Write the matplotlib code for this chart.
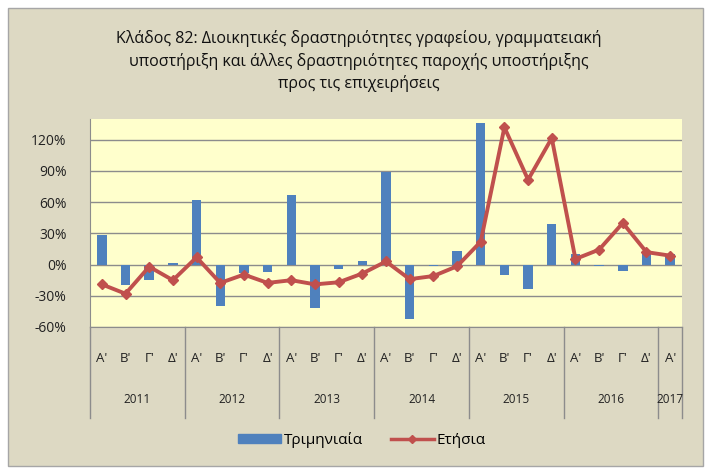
import numpy as np
import matplotlib.pyplot as plt
from matplotlib.patches import Rectangle
from matplotlib.lines import Line2D
from matplotlib.ticker import FuncFormatter
import matplotlib.transforms as mtransforms

plt.rcParams['font.family'] = ['Open Sans', 'DejaVu Sans']

years = ['2011', '2012', '2013', '2014', '2015', '2016', '2017']
quarters = ["Α'", "Β'", "Γ'", "Δ'"]
quarter_labels = quarters * 6 + ["Α'"]

# quarterly change (%)
quarterly = [28.8, -20, -15, 1.5,
             61.8, -40, -8, -7,
             67, -42, -4, 3,
             88.6, -52, -1, 13,
             136, -10, -23, 39,
             10.5, -1, -6, 13,
             10.5]
# annual change (%)
annual = [-19, -28, -2, -15,
          7, -17.6, -9.6, -17.6,
          -15, -19, -17, -8.6,
          3, -14, -11, -1.6,
          22, 132, 81.6, 121.6,
          5.4, 14.4, 40, 12,
          8.6]

title = ('Κλάδος 82: Διοικητικές δραστηριότητες γραφείου, γραμματειακή\n'
         'υποστήριξη και άλλες δραστηριότητες παροχής υποστήριξης\n'
         'προς τις επιχειρήσεις')

bar_color = '#4F81BD'
line_color = '#C0504D'
bg_color = '#DDD9C3'

fig = plt.figure(figsize=(7.11, 4.70), dpi=100)
fig.patch.set_facecolor('white')
fig.patches.append(Rectangle((8 / 711, 1 - 466 / 470), 695 / 711, 458 / 470,
                             transform=fig.transFigure, facecolor=bg_color,
                             edgecolor='#A6A6A6', linewidth=1, zorder=-1))

ax = fig.add_axes([90 / 711, 1 - 327 / 470, 592 / 711, 208 / 470])
ax.set_zorder(1)
ax.set_facecolor('#FFFFCC')

x = np.arange(len(quarterly))
ax.bar(x, quarterly, width=0.4, color=bar_color, zorder=2)
ax.plot(x, annual, color=line_color, linewidth=2.8, marker='D', markersize=5,
        zorder=3)

ax.set_xlim(-0.5, len(quarterly) - 0.5)
ax.set_ylim(-60, 140)
ax.set_yticks(np.arange(-60, 121, 30))
ax.yaxis.set_major_formatter(FuncFormatter(lambda v, _: f'{v:.0f}%'))
ax.grid(axis='y', color='#8C8C8C', linewidth=1, zorder=1)
ax.tick_params(axis='y', length=0, pad=17, labelsize=10, colors='#222222')

ax.set_xticks(x)
ax.set_xticklabels(quarter_labels, fontsize=9.5, color='#222222')
ax.tick_params(axis='x', length=0, pad=18)

for side in ['top', 'right']:
    ax.spines[side].set_visible(False)
ax.spines['left'].set_color('#8C8C8C')
ax.spines['bottom'].set_color('#8C8C8C')

# two-level category axis
trans = mtransforms.blended_transform_factory(ax.transData, ax.transAxes)
bounds = [-0.5 + 4 * i for i in range(7)] + [len(quarterly) - 0.5]
for b in bounds:
    ax.add_line(Line2D([b, b], [0, -91 / 208], transform=trans,
                       color='#8C8C8C', linewidth=1, clip_on=False))
for i, yr in enumerate(years):
    mid = (bounds[i] + bounds[i + 1]) / 2
    ax.text(mid, -73 / 208, yr, transform=trans, ha='center', va='center',
            fontsize=8.5, color='#222222')

fig.text(0.505, 1 - 61 / 470, title, ha='center', va='center', fontsize=11.5,
         linespacing=1.4, color='#111111')

handles = [Rectangle((0, 0), 1, 1, color=bar_color),
           Line2D([0], [0], color=line_color, linewidth=2.5, marker='D',
                  markersize=4)]
fig.legend(handles, ['Τριμηνιαία', 'Ετήσια'], loc='center',
           bbox_to_anchor=(362 / 711, 1 - 440 / 470), ncol=2, frameon=False,
           fontsize=11, handlelength=2.8, handleheight=0.6,
           columnspacing=1.8, handletextpad=0.2)

fig.savefig('out.png', dpi=100, facecolor=fig.get_facecolor())
